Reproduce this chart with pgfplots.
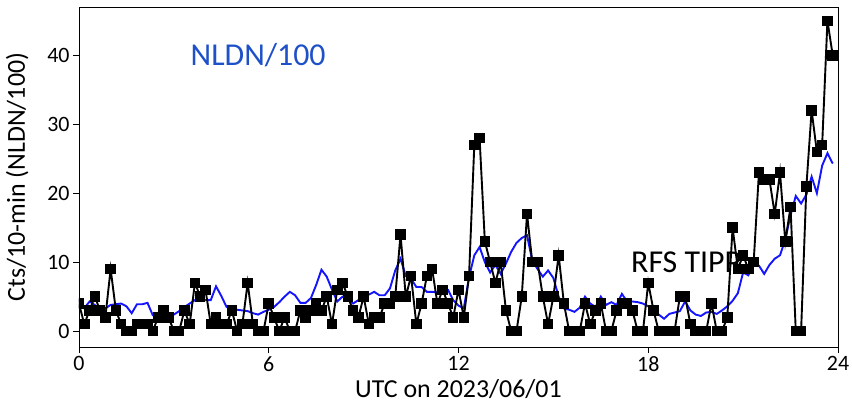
\documentclass[border=0pt]{standalone}
\usepackage{fontspec}
\setmainfont{Carlito}
\usepackage{pgfplots}
\usepackage{pgfplotstable}
\pgfplotsset{compat=1.18}

\definecolor{nldnline}{RGB}{20,20,255}
\definecolor{nldntext}{RGB}{30,80,200}

% 10-min bins on 2023/06/01: start minute, RFS TIPP counts, NLDN flashes / 100
\pgfplotstableread{
min tipp nldn
0 4 4.5
10 1 3.3
20 3 4.3
30 5 3.8
40 3 3.2
50 2 3.3
60 9 3.8
70 3 3.9
80 1 4.0
90 0 3.6
100 0 2.6
110 1 3.9
120 1 3.9
130 1 4.1
140 0 2.3
150 2 2.1
160 3 2.1
170 2 2.2
180 0 2.4
190 0 2.9
200 3 3.5
210 1 4.0
220 7 4.5
230 5 4.7
240 6 4.5
250 1 4.5
260 2 6.5
270 1 5.1
280 1 3.5
290 3 3.3
300 0 3.1
310 1 3.0
320 7 2.9
330 1 2.6
340 0 2.4
350 0 2.8
360 4 3.1
370 2 3.5
380 0 4.2
390 2 5.0
400 0 5.7
410 0 5.2
420 3 4.1
430 2 4.1
440 3 4.8
450 4 6.7
460 3 8.9
470 5 7.9
480 1 6.0
490 6 4.3
500 7 5.0
510 5 4.6
520 3 4.0
530 2 4.5
540 5 5.0
550 1 5.3
560 2 5.7
570 2 5.2
580 4 5.2
590 4 6.2
600 5 8.8
610 14 10.5
620 5 8.0
630 8 7.6
640 1 6.4
650 4 6.4
660 8 5.7
670 9 5.7
680 4 5.6
690 6 6.2
700 4 6.0
710 2 4.5
720 6 3.7
730 2 3.3
740 8 7.8
750 27 11.0
760 28 12.2
770 13 10.0
780 10 8.5
790 7 9.6
800 10 8.3
810 3 9.8
820 0 11.5
830 0 12.8
840 5 13.5
850 17 13.9
860 10 10.2
870 10 9.0
880 5 7.9
890 1 8.8
900 5 7.7
910 11 5.0
920 4 3.3
930 0 3.1
940 0 2.8
950 0 3.4
960 4 5.0
970 1 4.0
980 3 3.5
990 4 5.0
1000 0 3.8
1010 0 4.2
1020 3 3.8
1030 4 5.4
1040 4 4.3
1050 3 4.3
1060 0 4.2
1070 0 4.0
1080 7 3.6
1090 3 3.0
1100 0 2.4
1110 0 1.8
1120 0 2.5
1130 0 2.7
1140 5 2.9
1150 5 4.3
1160 1 3.0
1170 0 2.4
1180 0 2.2
1190 0 2.7
1200 4 2.8
1210 0 2.5
1220 0 3.0
1230 2 3.6
1240 15 4.4
1250 9 5.5
1260 11 8.5
1270 9 8.1
1280 10 9.8
1290 23 9.5
1300 22 8.3
1310 22 9.6
1320 17 10.5
1330 23 11.0
1340 13 13.3
1350 18 16.8
1360 0 19.6
1370 0 18.5
1380 21 19.8
1390 32 22.4
1400 26 20.0
1410 27 24.0
1420 45 25.8
1430 40 24.3
}\bindata

\begin{document}
\begin{tikzpicture}
\begin{axis}[
  scale only axis,
  width=759bp, height=340bp,
  xmin=0, xmax=24, ymin=-2.3, ymax=47,
  xtick={0,6,12,18,24},
  ytick={0,10,20,30,40},
  xtick pos=lower, ytick pos=left,
  tick align=outside,
  major tick length=6bp,
  tick style={black, line width=0.8bp},
  axis line style={black, line width=0.8bp},
  /pgf/number format/assume math mode=true,
  tick label style={font=\fontsize{22}{26}\selectfont},
  label style={font=\fontsize{26}{30}\selectfont},
  xlabel={UTC on 2023/06/01},
  ylabel={Cts/10-min (NLDN/100)},
  xlabel shift=1bp,
  ylabel shift=12bp,
  clip marker paths=true,
]
\node[anchor=west, text=nldntext, font=\fontsize{32}{36}\selectfont]
  at (axis cs:3.42,40) {NLDN/100};
\node[anchor=west, text=black, font=\fontsize{32}{36}\selectfont]
  at (axis cs:17.35,10) {RFS TIPP};

\addplot[nldnline, line width=1.9bp, no markers]
  table[x expr=\thisrow{min}/60, y=nldn] {\bindata};
\addplot[black, line width=1.9bp, mark=square*, mark size=4.3bp,
  mark options={solid, fill=black}]
  table[x expr=\thisrow{min}/60, y=tipp] {\bindata};
\end{axis}
\pgfresetboundingbox
\path[use as bounding box]
  ([xshift=-79bp,yshift=-59bp]current axis.south west)
  rectangle ([xshift=14bp,yshift=7bp]current axis.north east);
\end{tikzpicture}
\end{document}
